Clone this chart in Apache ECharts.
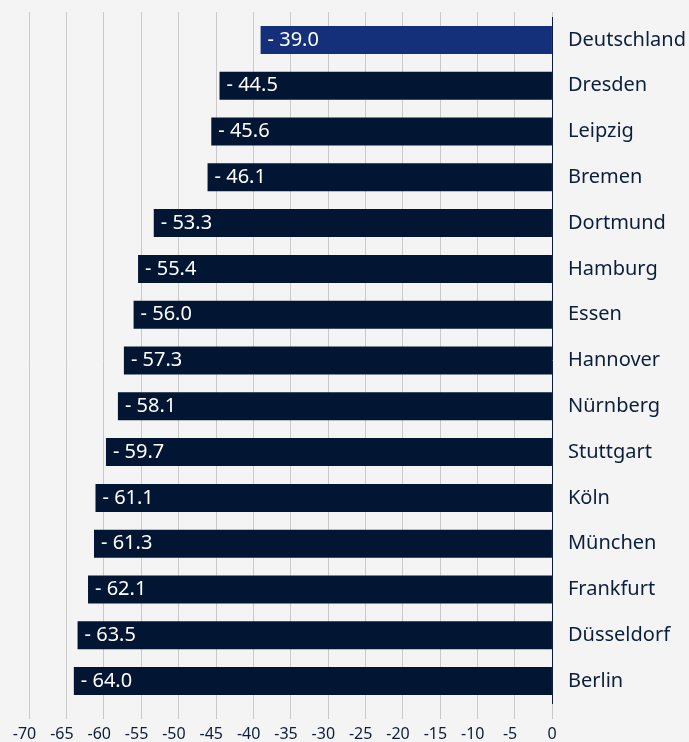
<!DOCTYPE html>
<html>
<head>
<meta charset="utf-8">
<style>
  html, body { margin:0; padding:0; background:#f4f4f4; }
  #chart { width:689px; height:742px; }
</style>
</head>
<body>
<div id="chart"></div>
<script src="https://cdn.jsdelivr.net/npm/echarts@6/dist/echarts.min.js"></script>
<script>
var cities = ['Deutschland', 'Dresden', 'Leipzig', 'Bremen', 'Dortmund', 'Hamburg', 'Essen', 'Hannover',
  'Nürnberg', 'Stuttgart', 'Köln', 'München', 'Frankfurt', 'Düsseldorf', 'Berlin'];
var values = [-39.0, -44.5, -45.6, -46.1, -53.3, -55.4, -56.0, -57.3, -58.1, -59.7, -61.1, -61.3, -62.1, -63.5, -64.0];
var highlight = 'Deutschland';

var navy = '#021634', blue = '#15307a', txt = '#0b1e3c', grid = '#c9c9c9';
var font = '"Noto Sans", sans-serif';

var chart = echarts.init(document.getElementById('chart'));
chart.setOption({
  backgroundColor: '#f4f4f4',
  animation: false,
  grid: { left: 29, right: 137, top: 17, bottom: 38 },
  xAxis: [{
    type: 'value', min: -70, max: 0, interval: 5, position: 'bottom',
    axisLine: { show: false },
    axisTick: { show: true, length: 15, lineStyle: { color: grid, width: 1 } },
    splitLine: { show: true, lineStyle: { color: grid, width: 1 } },
    axisLabel: {
      margin: 22, color: txt, fontSize: 16, fontFamily: font,
      formatter: function(v){ return v < 0 ? v + '{s| }' : String(v); },
      rich: { s: { width: 9 } }
    }
  }, {
    type: 'value', min: -70, max: 0, interval: 5, position: 'top',
    axisLine: { show: false },
    axisTick: { show: true, length: 5, lineStyle: { color: grid, width: 1 } },
    axisLabel: { show: false }, splitLine: { show: false }
  }],
  yAxis: {
    type: 'category', data: cities, inverse: true, position: 'right',
    axisLine: { show: true, lineStyle: { color: txt, width: 1 } },
    axisTick: { show: false },
    axisLabel: { margin: 16, color: txt, fontSize: 20, fontFamily: font, padding: [0, 0, 4, 0] }
  },
  series: [{
    type: 'bar', barWidth: 28,
    data: values.map(function(v, i){
      return { value: v, itemStyle: { color: cities[i] === highlight ? blue : navy } };
    }),
    label: {
      show: true, position: 'insideLeft', distance: 7, color: '#ffffff', fontSize: 20, fontFamily: font,
      formatter: function(p){ return '- ' + Math.abs(p.value).toFixed(1); }
    }
  }]
});
</script>
</body>
</html>
